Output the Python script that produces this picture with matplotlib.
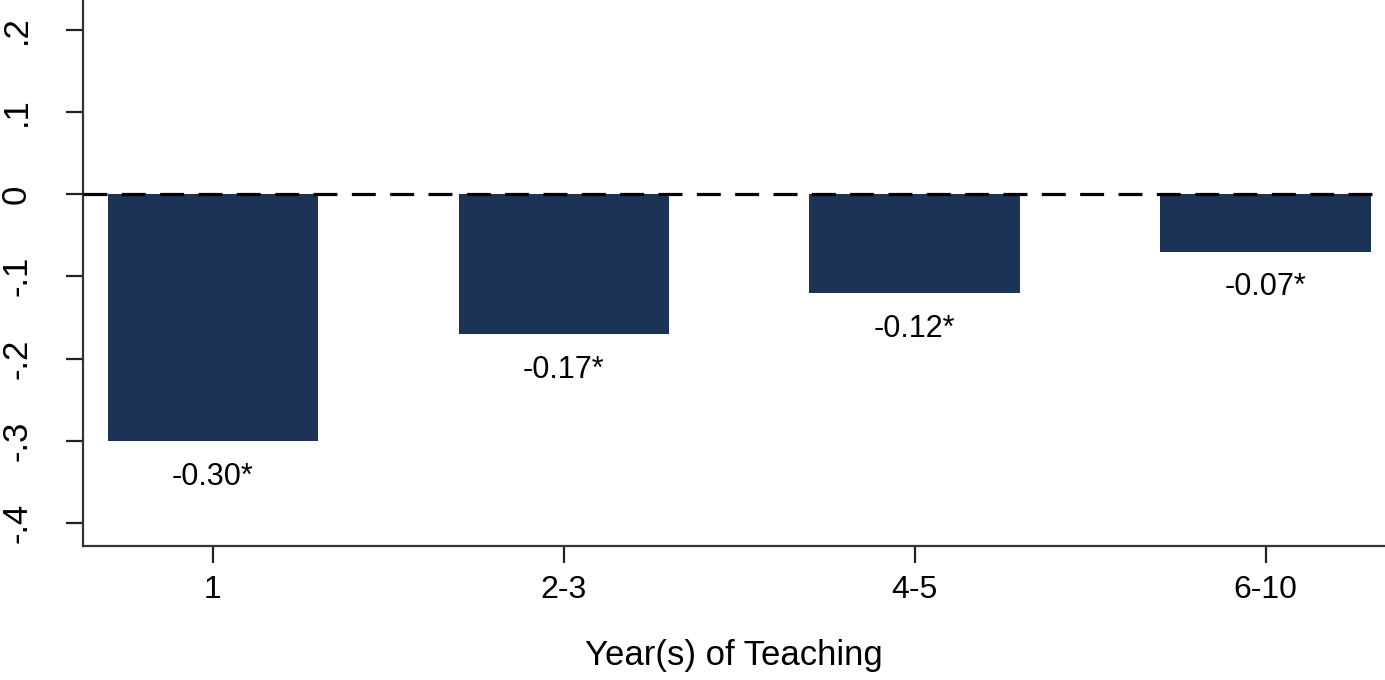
import matplotlib.pyplot as plt

plt.rcParams['font.family'] = ['Liberation Sans', 'DejaVu Sans']

groups = ['1', '2-3', '4-5', '6-10']
effects = [-0.30, -0.17, -0.12, -0.07]
labels = ['-0.30*', '-0.17*', '-0.12*', '-0.07*']
yticks = [-0.4, -0.3, -0.2, -0.1, 0, 0.1, 0.2]
yticklabels = ['-.4', '-.3', '-.2', '-.1', '0', '.1', '.2']

navy = '#1c3257'

fig = plt.figure(figsize=(13.85, 6.8), dpi=100)
ax = fig.add_axes([0.06, 0.197, 0.94, 0.803])

x = list(range(len(groups)))
ax.bar(x, effects, width=0.6, color=navy, zorder=2)
ax.axhline(0, color='black', lw=2.3, dashes=(7.5, 4.5), zorder=3)

for xi, v, lab in zip(x, effects, labels):
    ax.annotate(lab, (xi, v), xytext=(0, -15), textcoords='offset points',
                ha='center', va='top', fontsize=22)

ax.set_xlim(-0.37, 3.34)
ax.set_ylim(-0.428, 0.236)
ax.set_xticks(x)
ax.set_xticklabels(groups, fontsize=23)
ax.set_yticks(yticks)
ax.set_yticklabels(yticklabels, fontsize=25, rotation=90, va='center')
ax.set_xlabel('Year(s) of Teaching', fontsize=25, labelpad=24)

for side in ['top', 'right']:
    ax.spines[side].set_visible(False)
for side in ['left', 'bottom']:
    ax.spines[side].set_linewidth(1.6)
    ax.spines[side].set_color('#333333')
ax.tick_params(axis='both', length=12, width=1.6, color='#222222')
ax.tick_params(axis='x', pad=9)
ax.tick_params(axis='y', pad=24)

fig.savefig('out.png', dpi=100)
